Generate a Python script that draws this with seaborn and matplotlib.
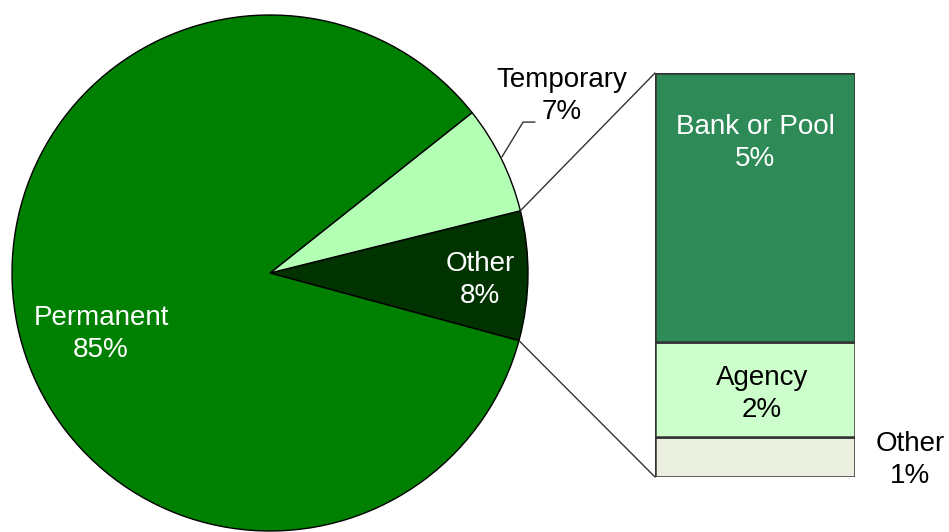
import numpy as np
import pandas as pd
import matplotlib.pyplot as plt
import seaborn as sns
from matplotlib.patches import ConnectionPatch

# pie data (counter-clockwise from the right edge)
pie_labels = ['Other', 'Temporary', 'Permanent']
pie_values = [8.1, 6.8, 85.1]
pie_text = ['8%', '7%', '85%']
pie_colors = ['#003300', '#b3ffb3', '#008000']

# breakdown of "Other" (bottom to top)
bar_labels = ['Other', 'Agency', 'Bank or Pool']
bar_values = [0.8, 1.9, 5.4]
bar_text = ['1%', '2%', '5%']
bar_colors = ['#ebefdf', '#ccffcc', '#2e8b57']

sns.set_style('white')
plt.rcParams['font.family'] = ['Liberation Sans', 'DejaVu Sans']

fig = plt.figure(figsize=(9.49, 5.32), dpi=100)
W, H = 949, 532

# pie axes: center (270,273), radius 258 px
ax1 = fig.add_axes([12 / W, (H - 531) / H, 516 / W, 516 / H])
wedges, _ = ax1.pie(pie_values, colors=pie_colors, startangle=-15.2,
                    counterclock=True, radius=1,
                    wedgeprops=dict(edgecolor='black', linewidth=1))
ax1.set_xlim(-1, 1)
ax1.set_ylim(-1, 1)
ax1.set_aspect('auto')
ax1.axis('off')

fs = 20
ls = 1.3
ax1.text(-0.655, -0.236, f'{pie_labels[2]}\n{pie_text[2]}', color='white',
         ha='center', va='center', fontsize=fs, linespacing=ls)
ax1.text(0.814, -0.027, f'{pie_labels[0]}\n{pie_text[0]}', color='white',
         ha='center', va='center', fontsize=fs, linespacing=ls)
ax1.text(1.132, 0.686, f'{pie_labels[1]}\n{pie_text[1]}', color='black',
         ha='center', va='center', fontsize=fs, linespacing=ls, clip_on=False)
ax1.plot([0.899, 0.981, 1.027], [0.450, 0.585, 0.585], color='#333333',
         lw=1, clip_on=False)

# stacked bar axes: x 655-855, y 73-477 px
ax2 = fig.add_axes([655 / W, (H - 477) / H, 200 / W, 404 / H])
df = pd.DataFrame({'label': bar_labels, 'value': bar_values})
bottom = 0
for i, row in df.iterrows():
    ax2.bar(0, row['value'], bottom=bottom, width=1, color=bar_colors[i],
            edgecolor='#333333', linewidth=1.8)
    bottom += row['value']
total = bottom
ax2.set_xlim(-0.5, 0.5)
ax2.set_ylim(0, total)
ax2.axis('off')

ax2.text(0, 6.7, f'{bar_labels[2]}\n{bar_text[2]}', ha='center', va='center',
         fontsize=fs, color='white', linespacing=ls)
ax2.text(0.035, 1.66, f'{bar_labels[1]}\n{bar_text[1]}', ha='center', va='center',
         fontsize=fs, color='black', linespacing=ls)
ax2.text(0.775, 0.34, f'{bar_labels[0]}\n{bar_text[0]}', ha='center', va='center',
         fontsize=fs, color='black', linespacing=ls, clip_on=False)

# connector lines from the "Other" wedge to the bar
t1 = np.deg2rad(-15.2 + 360 * pie_values[0] / 100)
t0 = np.deg2rad(-15.2)
for th, yb in [(t1, total), (t0, 0)]:
    con = ConnectionPatch(xyA=(np.cos(th), np.sin(th)), coordsA=ax1.transData,
                          xyB=(-0.5, yb), coordsB=ax2.transData,
                          color='#333333', lw=1)
    fig.add_artist(con)

fig.savefig('out.png', dpi=100, facecolor='white')
